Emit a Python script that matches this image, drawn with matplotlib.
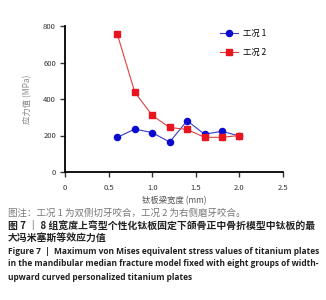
import matplotlib
matplotlib.use("Agg")
import matplotlib.pyplot as plt

plt.rcParams['font.family'] = ['Noto Sans CJK SC', 'DejaVu Sans']

# data
widths = [0.6, 0.8, 1.0, 1.2, 1.4, 1.6, 1.8, 2.0]
case1 = [190, 235, 216, 164, 281, 207, 223, 197]
case2 = [755, 438, 310, 244, 233, 190, 190, 200]
xticks = [0, 0.5, 1.0, 1.5, 2.0, 2.5]
xtick_labels = ['0', '0.5', '1.0', '1.5', '2.0', '2.5']
yticks = [0, 200, 400, 600, 800]

fig = plt.figure(figsize=(3.26, 3.0), dpi=100)
ax = fig.add_axes([65 / 326, 1 - 172 / 300, 218 / 326, 146 / 300])

ax.plot(widths, case1, color='#3a3ac8', lw=0.8, marker='o', ms=4.4,
        mfc='#0a0ad0', mec='#0a0ad0', label='工况 1')
ax.plot(widths, case2, color='#e04040', lw=0.8, marker='s', ms=4.2,
        mfc='#e8141e', mec='#e8141e', label='工况 2')

ax.set_xlim(0, 2.5)
ax.set_ylim(0, 800)
ax.set_xticks(xticks)
ax.set_xticklabels(xtick_labels)
ax.set_yticks(yticks)
ax.tick_params(labelsize=5.5, length=3.5, width=1, colors='#333333')
ax.tick_params(axis='x', pad=5)
ax.tick_params(axis='y', pad=3)
for s in ['top', 'right']:
    ax.spines[s].set_visible(False)
for s in ['left', 'bottom']:
    ax.spines[s].set_linewidth(1.3)

ax.set_xlabel('钛板梁宽度 (mm)', fontsize=6, color='#555555', labelpad=3)
ax.set_ylabel('应力值 (MPa)', fontsize=6, color='#888888', labelpad=8)

ax.legend(loc='upper right', bbox_to_anchor=(0.95, 1.02), frameon=False,
          fontsize=6, handlelength=2.2, handletextpad=0.6, labelspacing=1.2,
          borderaxespad=0.3)

fig.text(8 / 326, 1 - 213 / 300, '图注：工况 1 为双侧切牙咬合，工况 2 为右侧磨牙咬合。',
         fontsize=6.8, color='#777777', va='center')
fig.text(8 / 326, 1 - 226.5 / 300, '图 7 ｜ 8 组宽度上弯型个性化钛板固定下颌骨正中骨折模型中钛板的最',
         fontsize=7.1, fontweight='bold', color='#222222', va='center')
fig.text(8 / 326, 1 - 238.5 / 300, '大冯米塞斯等效应力值',
         fontsize=7.1, fontweight='bold', color='#222222', va='center')
fig.text(8 / 326, 1 - 251 / 300, 'Figure 7  |  Maximum von Mises equivalent stress values of titanium plates',
         fontsize=6.0, fontweight='bold', color='#222222', va='center', family='Open Sans')
fig.text(8 / 326, 1 - 264 / 300, 'in the mandibular median fracture model fixed with eight groups of width-',
         fontsize=6.0, fontweight='bold', color='#222222', va='center', family='Open Sans')
fig.text(8 / 326, 1 - 277 / 300, 'upward curved personalized titanium plates',
         fontsize=6.0, fontweight='bold', color='#222222', va='center', family='Open Sans')

fig.savefig('out.png', dpi=100)
